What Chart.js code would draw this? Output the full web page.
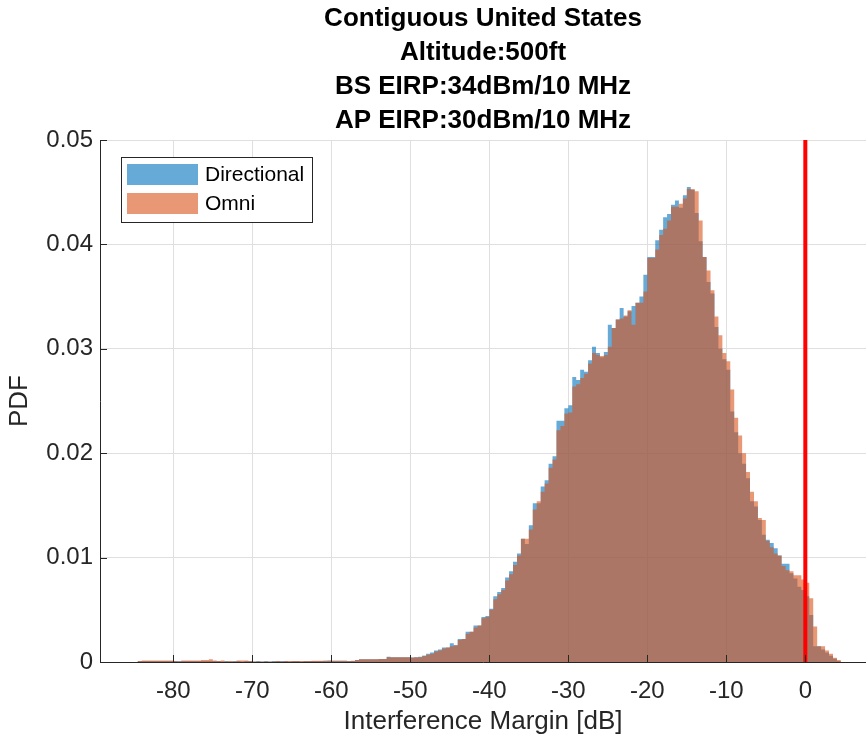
<!DOCTYPE html>
<html>
<head>
<meta charset="utf-8">
<title>Contiguous United States - Interference Margin PDF</title>
<script src="https://cdn.jsdelivr.net/npm/chart.js@4.4.1/dist/chart.umd.min.js"></script>
<style>
  html, body { margin: 0; padding: 0; background: #ffffff; }
  #wrap { width: 866px; height: 737px; }
</style>
</head>
<body>
<div id="wrap"><canvas id="c" width="866" height="737"></canvas></div>
<script>
// ---------------- data ----------------
const titleLines = ['Contiguous United States', 'Altitude:500ft', 'BS EIRP:34dBm/10 MHz', 'AP EIRP:30dBm/10 MHz'];
const xAxisTitle = 'Interference Margin [dB]';
const yAxisTitle = 'PDF';
const seriesNames = ['Directional', 'Omni'];
const binStart = -85;     // left edge of first bin (dB)
const binWidth = 0.5;     // bin width (dB)
const thresholdX = 0;     // red vertical line (dB)
const xTickValues = [-80, -70, -60, -50, -40, -30, -20, -10, 0];
const yTickValues = [0, 0.01, 0.02, 0.03, 0.04, 0.05];

// PDF per bin
const directional = [
  0, 0.0001, 0.0001, 0.0001, 0.0001, 0.0001, 0.0001, 0.0001, 0.0001, 0.0001,
  0.0001, 0.0001, 0.0001, 0.0001, 0.0001, 0.0001, 0.0001, 0.0001, 0.0001, 0.0001,
  0.0001, 0.0001, 0.00005, 0.0001, 0.00005, 0.0001, 0.0001, 0.00005, 0.0001, 0.0001,
  0.00005, 0.0001, 0.00005, 0.0001, 0.00005, 0.0001, 0.0001, 0.0001, 0.0001, 0.00005,
  0.0001, 0.0001, 0.00005, 0.0001, 0.0001, 0.0001, 0.0001, 0.0001, 0.00012, 0.00015,
  0.00013, 0.00013, 0.00013, 0.00013, 0.0001, 0.00012, 0.0002, 0.00026, 0.00026, 0.00026,
  0.00026, 0.00026, 0.00028, 0.00028, 0.0005, 0.00045, 0.00045, 0.00045, 0.00045, 0.00045,
  0.00043, 0.00045, 0.0005, 0.0006, 0.0008, 0.0009, 0.0011, 0.0012, 0.0014, 0.0014,
  0.0018, 0.0016, 0.0022, 0.0022, 0.0029, 0.0029, 0.0035, 0.0035, 0.0043, 0.0044,
  0.0051, 0.0063, 0.0067, 0.0071, 0.0081, 0.0087, 0.0096, 0.0104, 0.0118, 0.0113,
  0.0131, 0.0152, 0.0152, 0.0168, 0.0174, 0.0190, 0.0197, 0.0231, 0.0231, 0.0243,
  0.0246, 0.0273, 0.0270, 0.0280, 0.0278, 0.0289, 0.0302, 0.0296, 0.0292, 0.0297,
  0.0323, 0.0320, 0.0328, 0.0339, 0.0331, 0.0336, 0.0341, 0.0344, 0.0350, 0.0371,
  0.0388, 0.0388, 0.0404, 0.0414, 0.0426, 0.0429, 0.0438, 0.0442, 0.0435, 0.0447,
  0.0455, 0.0452, 0.0430, 0.0403, 0.0388, 0.0364, 0.0353, 0.0321, 0.0300, 0.0290,
  0.0280, 0.0240, 0.0220, 0.0200, 0.0190, 0.0176, 0.0154, 0.0149, 0.0136, 0.0122,
  0.0117, 0.0114, 0.0109, 0.0102, 0.0094, 0.0094, 0.0085, 0.0080, 0.0072, 0.0069,
  0.0063, 0.0045, 0.0015, 0.0015, 0.0012, 0.0009, 0.0006, 0.0003, 0.0001
];
const omni = [
  0, 0.0001, 0.00015, 0.00015, 0.00015, 0.00015, 0.00015, 0.00015, 0.00015, 0.00015,
  0.0001, 0.00005, 0.00015, 0.00015, 0.00015, 0.00015, 0.00015, 0.00018, 0.0002, 0.00026,
  0.00015, 0.0001, 0.00015, 0.00005, 0.0001, 0.00005, 0.00015, 0.00015, 0.00015, 0.0001,
  0.00005, 0.00005, 0.00005, 0.00005, 0.00005, 0.00005, 0.0001, 0.00005, 0.0001, 0.0001,
  0.0001, 0.0001, 0.0001, 0.0001, 0.0001, 0.00012, 0.00012, 0.00012, 0.00012, 0.00012,
  0.00013, 0.00013, 0.00013, 0.00013, 0.0001, 0.0001, 0.0002, 0.00026, 0.00026, 0.00026,
  0.00026, 0.00026, 0.00028, 0.00028, 0.00045, 0.00045, 0.00045, 0.00045, 0.00045, 0.00045,
  0.00043, 0.00045, 0.00045, 0.0006, 0.0007, 0.0008, 0.0010, 0.0011, 0.0013, 0.0014,
  0.0015, 0.0016, 0.0021, 0.0022, 0.0027, 0.0029, 0.0033, 0.0035, 0.0042, 0.0043,
  0.0050, 0.0060, 0.0065, 0.0069, 0.0078, 0.0084, 0.0093, 0.0102, 0.0118, 0.0118,
  0.0127, 0.0146, 0.0154, 0.0163, 0.0171, 0.0186, 0.0194, 0.0222, 0.0226, 0.0238,
  0.0239, 0.0264, 0.0266, 0.0272, 0.0276, 0.0286, 0.0296, 0.0294, 0.0293, 0.0294,
  0.0302, 0.0320, 0.0328, 0.0329, 0.0332, 0.0337, 0.0323, 0.0344, 0.0344, 0.0355,
  0.0387, 0.0387, 0.0395, 0.0409, 0.0415, 0.0423, 0.0436, 0.0436, 0.0439, 0.0444,
  0.0453, 0.0453, 0.0451, 0.0423, 0.0388, 0.0375, 0.0356, 0.0331, 0.0313, 0.0296,
  0.0288, 0.0261, 0.0234, 0.0217, 0.0200, 0.0182, 0.0163, 0.0154, 0.0138, 0.0136,
  0.0116, 0.0110, 0.0104, 0.0102, 0.0092, 0.0088, 0.0087, 0.0083, 0.0083, 0.0079,
  0.0076, 0.0061, 0.0034, 0.0015, 0.0015, 0.0011, 0.0008, 0.0004, 0.0002
];

// ---------------- build histogram outlines (bin edges) ----------------
function histPoints(values) {
  const pts = values.map((v, i) => ({ x: binStart + i * binWidth, y: v }));
  pts.push({ x: binStart + values.length * binWidth, y: 0 });
  return pts;
}

const BLUE = 'rgba(0,114,189,0.6)';
const ORANGE = 'rgba(217,83,25,0.6)';
const AXIS = '#262626';
const GRID = '#dfdfdf';
const FONT = '"Liberation Sans", Arial, Helvetica, sans-serif';

Chart.defaults.font.family = FONT;
Chart.defaults.color = AXIS;

const decor = {
  id: 'matlabDecor',
  afterDatasetsDraw(chart) {
    const { ctx, chartArea: a, scales: { x, y } } = chart;
    ctx.save();
    // axis lines
    ctx.strokeStyle = AXIS;
    ctx.lineWidth = 1;
    ctx.beginPath();
    ctx.moveTo(a.left + 0.5, a.top);
    ctx.lineTo(a.left + 0.5, a.bottom + 0.5);
    ctx.lineTo(a.right, a.bottom + 0.5);
    ctx.stroke();
    // inward tick marks
    ctx.beginPath();
    xTickValues.forEach(v => {
      const px = Math.round(x.getPixelForValue(v)) + 0.5;
      ctx.moveTo(px, a.bottom);
      ctx.lineTo(px, a.bottom - 7);
    });
    yTickValues.forEach(v => {
      const py = Math.round(y.getPixelForValue(v)) + 0.5;
      ctx.moveTo(a.left, py);
      ctx.lineTo(a.left + 7, py);
    });
    ctx.stroke();
    ctx.restore();
  },
  afterDraw(chart) {
    const { ctx, chartArea: a } = chart;
    ctx.save();
    // legend box (MATLAB style, inside axes, top-left)
    const bx = a.left + 21, by = a.top + 17, bw = 191, bh = 65;
    ctx.fillStyle = '#ffffff';
    ctx.fillRect(bx, by, bw, bh);
    ctx.strokeStyle = AXIS;
    ctx.lineWidth = 1;
    ctx.strokeRect(bx + 0.5, by + 0.5, bw, bh);
    const colors = [BLUE, ORANGE];
    ctx.font = '21px ' + FONT;
    ctx.textBaseline = 'middle';
    ctx.textAlign = 'left';
    seriesNames.forEach((name, i) => {
      const sy = by + 7 + i * 29;
      ctx.fillStyle = colors[i];
      ctx.fillRect(bx + 6, sy, 71, 21);
      ctx.fillStyle = '#000000';
      ctx.fillText(name, bx + 84, sy + 11);
    });
    ctx.restore();
  }
};

new Chart(document.getElementById('c'), {
  type: 'line',
  data: {
    datasets: [
      {
        label: seriesNames[0],
        data: histPoints(directional),
        order: 2,
        stepped: true,
        fill: 'origin',
        backgroundColor: BLUE,
        borderColor: 'rgba(0,0,0,0)',
        borderWidth: 0,
        pointRadius: 0
      },
      {
        label: seriesNames[1],
        data: histPoints(omni),
        order: 1,
        stepped: true,
        fill: 'origin',
        backgroundColor: ORANGE,
        borderColor: 'rgba(0,0,0,0)',
        borderWidth: 0,
        pointRadius: 0
      },
      {
        label: 'threshold',
        data: [{ x: thresholdX, y: yTickValues[0] }, { x: thresholdX, y: yTickValues[yTickValues.length - 1] }],
        order: 0,
        borderColor: '#ff0000',
        borderWidth: 4,
        pointRadius: 0,
        fill: false
      }
    ]
  },
  options: {
    responsive: false,
    animation: false,
    events: [],
    layout: { padding: { left: 0, right: 0, top: 0, bottom: 0 } },
    plugins: {
      legend: { display: false },
      tooltip: { enabled: false },
      title: {
        display: true,
        text: titleLines,
        fullSize: false,
        color: '#000000',
        font: { size: 26, weight: 'bold', lineHeight: 34 / 26 },
        padding: { top: 2, bottom: 2 }
      }
    },
    scales: {
      x: {
        type: 'linear',
        min: -89.28,
        max: 7.68,
        afterFit(s) { s.height = 75; },
        grid: { color: GRID, lineWidth: 1, drawTicks: false },
        border: { display: false },
        ticks: {
          stepSize: 10,
          includeBounds: false,
          padding: 15,
          color: AXIS,
          font: { size: 24 },
          callback: v => String(v)
        },
        title: {
          display: true,
          text: xAxisTitle,
          color: AXIS,
          font: { size: 26 },
          padding: { top: 0, bottom: 0 }
        }
      },
      y: {
        type: 'linear',
        min: 0,
        max: 0.05,
        afterFit(s) { s.width = 100; },
        grid: { color: GRID, lineWidth: 1, drawTicks: false },
        border: { display: false },
        ticks: {
          stepSize: 0.01,
          padding: 7,
          color: AXIS,
          font: { size: 24 },
          callback: v => (v === 0 ? '0' : v.toFixed(2))
        },
        title: {
          display: true,
          text: yAxisTitle,
          color: AXIS,
          font: { size: 26 },
          padding: { top: 4, bottom: 0 }
        }
      }
    }
  },
  plugins: [decor]
});
</script>
</body>
</html>
